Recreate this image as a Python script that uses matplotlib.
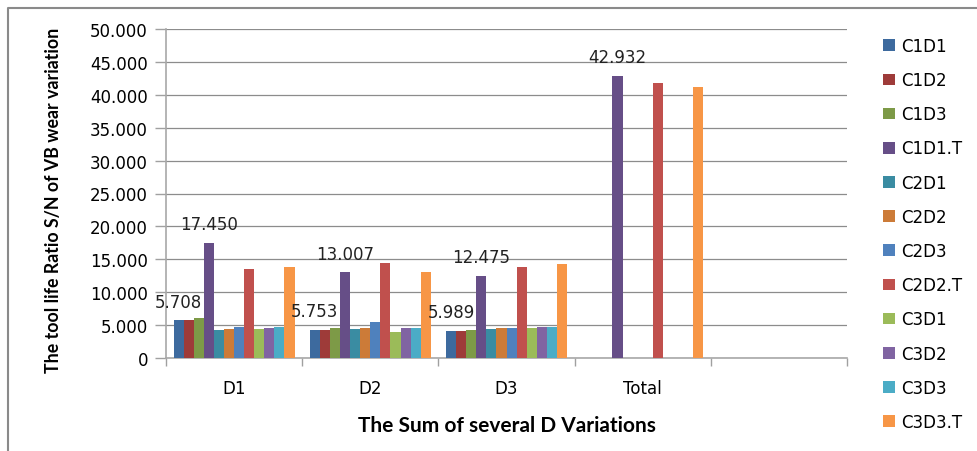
import numpy as np
import matplotlib
matplotlib.use('Agg')
import matplotlib.pyplot as plt
from matplotlib.lines import Line2D
from matplotlib.ticker import FuncFormatter

categories = ['D1', 'D2', 'D3', 'Total', '']
series_names = ['C1D1', 'C1D2', 'C1D3', 'C1D1.T', 'C2D1', 'C2D2',
                'C2D3', 'C2D2.T', 'C3D1', 'C3D2', 'C3D3', 'C3D3.T']

c1d1 = [5.708, 4.22, 4.07, 0, 0]
c1d2 = [5.70, 4.22, 4.07, 0, 0]
c1d3 = [6.05, 4.52, 4.22, 0, 0]
c1d1_t = [17.450, 13.007, 12.475, 42.932, 0]
c2d1 = [4.22, 4.37, 4.47, 0, 0]
c2d2 = [4.42, 4.52, 4.62, 0, 0]
c2d3 = [4.77, 5.49, 4.62, 0, 0]
c2d2_t = [13.50, 14.43, 13.87, 41.80, 0]
c3d1 = [4.37, 3.96, 4.62, 0, 0]
c3d2 = [4.62, 4.52, 4.77, 0, 0]
c3d3 = [4.77, 4.52, 4.77, 0, 0]
c3d3_t = [13.87, 13.06, 14.28, 41.20, 0]

# text labels shown on the chart (series C1D1 and C1D1.T)
c1d1_labels = ['5.708', '5.753', '5.989', '', '']
c1d1_t_labels = ['17.450', '13.007', '12.475', '42.932', '']

values = [c1d1, c1d2, c1d3, c1d1_t, c2d1, c2d2,
          c2d3, c2d2_t, c3d1, c3d2, c3d3, c3d3_t]
colors = ['#3D6A9E', '#9E3B39', '#7D9A47', '#664E87', '#3A8CA2', '#CC7B38',
          '#4F81BD', '#C0504D', '#9BBB59', '#8064A2', '#4BACC6', '#F79646']

fig = plt.figure(figsize=(9.77, 4.52), dpi=100)
ax = fig.add_axes([166 / 977, 1 - 359 / 452, (847 - 166) / 977, (359 - 30) / 452])

x = np.arange(len(categories))
n = len(series_names)
slot = 0.074
start = -n * slot / 2 + slot / 2

for i in range(n):
    ax.bar(x + start + i * slot, values[i], width=slot, color=colors[i],
           label=series_names[i], zorder=3, linewidth=0)

for j in range(len(categories)):
    for idx, labs in ((0, c1d1_labels), (3, c1d1_t_labels)):
        if labs[j]:
            ax.annotate(labs[j], (x[j] + start + idx * slot, values[idx][j]),
                        xytext=(0, 13.5), textcoords='offset points',
                        ha='center', va='center', fontsize=12, color='#222222',
                        zorder=5)

ax.set_xlim(-0.5, len(categories) - 0.5)
ax.set_ylim(0, 50)
ax.set_yticks(np.arange(0, 51, 5))
ax.yaxis.set_major_formatter(FuncFormatter(lambda v, p: '0' if v == 0 else '%.3f' % v))
ax.set_xticks(x)
ax.set_xticklabels(categories)
ax.set_xticks(np.arange(-0.5, len(categories)), minor=True)
ax.tick_params(axis='x', which='major', length=0, pad=15, labelsize=12)
ax.tick_params(axis='x', which='minor', length=6, color='#A0A0A0', width=1)
ax.tick_params(axis='y', length=8, color='#A0A0A0', width=1, labelsize=12, pad=5)
ax.grid(axis='y', color='#8C8C8C', linewidth=0.9, zorder=0)

for s in ['top', 'right']:
    ax.spines[s].set_visible(False)
for s in ['left', 'bottom']:
    ax.spines[s].set_color('#A8A8A8')
    ax.spines[s].set_linewidth(1.2)

ax.set_ylabel('The tool life Ratio S/N of VB wear variation', fontfamily='Lato',
              fontweight='bold', fontsize=12.8)
ax.yaxis.set_label_coords(-0.1527, 0.483)
ax.set_xlabel('The Sum of several D Variations', fontfamily='Lato',
              fontweight='bold', fontsize=15, labelpad=13)

ax.legend(loc='upper left', bbox_to_anchor=(883 / 977, 1 - 38 / 452),
          bbox_transform=fig.transFigure, frameon=False, fontsize=12,
          handlelength=0.7, handleheight=0.7, handletextpad=0.4,
          labelspacing=0.97, borderpad=0, borderaxespad=0)

fig.add_artist(Line2D([8 / 977, 8 / 977, 1], [0, 1 - 9 / 452, 1 - 9 / 452],
                      transform=fig.transFigure, color='#8A8A8A', linewidth=1.5))

fig.savefig('out.png', dpi=100)
